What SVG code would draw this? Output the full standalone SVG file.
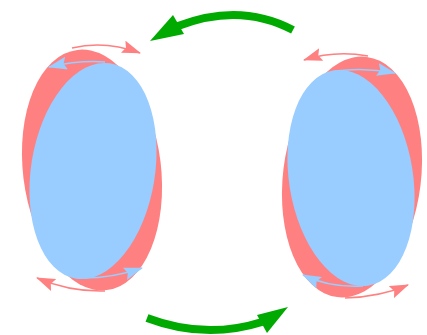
<svg xmlns="http://www.w3.org/2000/svg" width="427" height="335" viewBox="0 0 427 335">
<defs>
<style>
.red{fill:#FF8080}
.blue{fill:#99CCFF}
.ar{fill:none;stroke-width:1.5}
.ar.r{stroke:#FF8080;marker-end:url(#mr)}
.ar.b{stroke:#99CCFF;marker-end:url(#mb)}
.g{fill:none;stroke:#00AA00;stroke-width:8}
.gh{fill:#00AA00}
</style>
<marker id="mr" viewBox="0 0 19 13" refX="18" refY="6.5" markerWidth="19" markerHeight="13" markerUnits="userSpaceOnUse" orient="auto"><path d="M0,0 L19,6.5 L0,13 L3,6.5 z" fill="#FF8080"/></marker>
<marker id="mb" viewBox="0 0 19 13" refX="18" refY="6.5" markerWidth="19" markerHeight="13" markerUnits="userSpaceOnUse" orient="auto"><path d="M0,0 L19,6.5 L0,13 L3,6.5 z" fill="#99CCFF"/></marker>
</defs>
<rect width="427" height="335" fill="#ffffff"/>
<g id="left-red"><ellipse class="red" cx="92" cy="170" rx="69" ry="121" transform="rotate(-7 92 170)"/></g>
<g id="right-red"><ellipse class="red" cx="352" cy="177" rx="69" ry="121" transform="rotate(7 352 177)"/></g>
<g id="left-blue"><ellipse class="blue" cx="93" cy="171" rx="62" ry="109" transform="rotate(9 93 171)"/></g>
<g id="right-blue"><ellipse class="blue" cx="351" cy="178" rx="62" ry="109" transform="rotate(-9 351 178)"/></g>
<g id="connectors">
<path class="ar r" d="M72,48 Q105,40 140,53"/>
<path class="ar b" d="M105,62 Q80,60 49,67"/>
<path class="ar b" d="M78,278 Q110,279 142,268"/>
<path class="ar r" d="M105,291 Q70,292 37,278"/>
<path class="ar r" d="M368,56 Q335,50 304,60"/>
<path class="ar b" d="M335,71 Q365,67 395,73"/>
<path class="ar b" d="M363,286 Q330,288 303,275"/>
<path class="ar r" d="M345,298 Q380,297 408,285"/>
<path class="g" d="M293,30 Q240,2 178,26"/>
<polygon class="gh" points="150,41 173,15 184,34"/>
<path class="g" d="M147,318 Q205,340 262,322"/>
<polygon class="gh" points="288,307 257,315 267,333"/>
</g>
</svg>
